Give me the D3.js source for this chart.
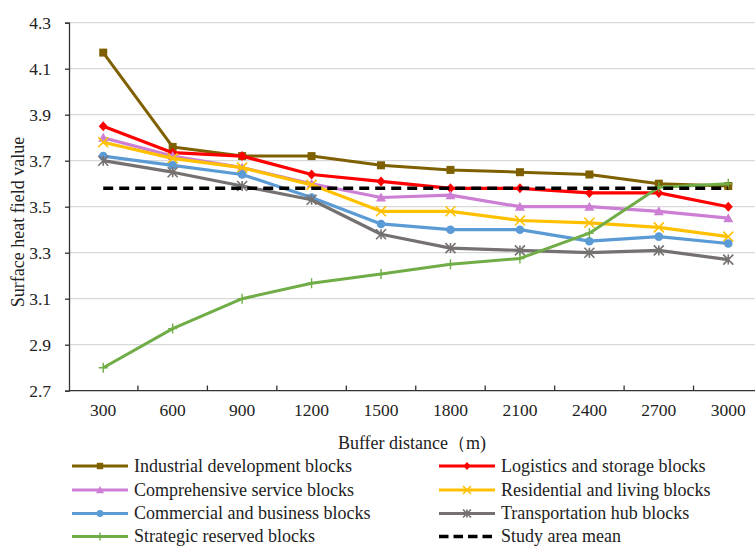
<!DOCTYPE html>
<html><head><meta charset="utf-8">
<script src="https://cdn.jsdelivr.net/npm/d3@7"></script>
<style>body{margin:0;background:#fff}svg{display:block}svg text{font-family:"Liberation Serif","Times New Roman",serif !important;fill:#222}</style>
</head><body><svg id="c" width="755" height="546" font-family="Liberation Serif, serif"></svg>
<script>
const categories = ["300","600","900","1200","1500","1800","2100","2400","2700","3000"];
const yTicks = [2.7,2.9,3.1,3.3,3.5,3.7,3.9,4.1,4.3];
const industrial   = [4.17,3.76,3.72,3.72,3.68,3.66,3.65,3.64,3.60,3.59];
const logistics    = [3.85,3.735,3.72,3.64,3.61,3.58,3.58,3.56,3.56,3.50];
const comprehensive= [3.80,3.72,3.67,3.60,3.54,3.55,3.50,3.50,3.48,3.45];
const residential  = [3.78,3.71,3.67,3.595,3.48,3.48,3.44,3.43,3.41,3.37];
const commercial   = [3.72,3.68,3.64,3.54,3.425,3.40,3.40,3.35,3.37,3.34];
const transport    = [3.70,3.65,3.59,3.53,3.38,3.32,3.31,3.30,3.31,3.27];
const strategic    = [2.80,2.97,3.10,3.167,3.207,3.25,3.275,3.385,3.585,3.60];
const studyMean    = [3.58,3.58,3.58,3.58,3.58,3.58,3.58,3.58,3.58,3.58];
const seriesNames = ["Industrial development blocks","Logistics and storage blocks","Comprehensive service blocks","Residential and living blocks","Commercial and business blocks","Transportation hub blocks","Strategic reserved blocks","Study area mean"];

const series = [
 {name:seriesNames[0], values:industrial, color:"#7f6000", marker:"square", w:3},
 {name:seriesNames[1], values:logistics, color:"#ff0000", marker:"diamond", w:3.2},
 {name:seriesNames[2], values:comprehensive, color:"#cc7fd4", marker:"triangle", w:3.2},
 {name:seriesNames[3], values:residential, color:"#ffc000", marker:"x", w:3.2},
 {name:seriesNames[4], values:commercial, color:"#5b9bd5", marker:"circle", w:3.2},
 {name:seriesNames[5], values:transport, color:"#767171", marker:"asterisk", w:3.2},
 {name:seriesNames[6], values:strategic, color:"#70ad47", marker:"plus", w:3},
 {name:seriesNames[7], values:studyMean, color:"#000000", marker:"none", w:3.5, dash:"10,6"}
];

const FONT = "Liberation Serif, Times New Roman, serif";
const svg = d3.select("#c");
const x = d3.scaleBand().domain(categories).range([68.5, 763]).padding(0);
const y = d3.scaleLinear().domain([2.7,4.3]).range([390.7, 22.7]);
const cx = c => x(c) + x.bandwidth()/2;

// gridlines
svg.append("g").selectAll("line").data(yTicks.slice(1)).join("line")
  .attr("x1", 69).attr("x2", 755).attr("y1", d=>y(d)).attr("y2", d=>y(d))
  .attr("stroke", "#d9d9d9").attr("stroke-width", 1.3);

// y axis
const ya = svg.append("g").attr("transform","translate(69,0)")
  .call(d3.axisLeft(y).tickValues(yTicks).tickFormat(d3.format(".1f")).tickSize(4).tickPadding(14));
ya.attr("font-family", FONT);
ya.select(".domain").attr("stroke","#333").attr("stroke-width",1.3);
ya.selectAll(".tick line").attr("stroke","#333").attr("stroke-width",1.3);
ya.selectAll("text").attr("font-size",17.5).attr("fill","#222");

// x axis
const xa = svg.append("g").attr("transform","translate(0,390.7)")
  .call(d3.axisBottom(x).tickSize(0).tickPadding(13));
xa.attr("font-family", FONT);
xa.select(".domain").remove();
xa.selectAll("text").attr("font-size",17.5).attr("fill","#222");
svg.append("line").attr("x1",69).attr("x2",755).attr("y1",390.7).attr("y2",390.7).attr("stroke","#333").attr("stroke-width",1.3);
svg.append("g").selectAll("line").data(categories.slice(1)).join("line")
  .attr("x1",d=>x(d)).attr("x2",d=>x(d)).attr("y1",390.7).attr("y2",385.5)
  .attr("stroke","#333").attr("stroke-width",1.3);

// titles
svg.append("text").attr("transform","translate(24,222) rotate(-90)").attr("text-anchor","middle")
  .attr("font-size",18).text("Surface heat field value");
svg.append("text").attr("x",412).attr("y",449).attr("text-anchor","middle").attr("font-size",18)
  .text("Buffer distance（m)");

function drawMarker(g, type, color, px, py, scale){
  const s = scale||1;
  if(type==="square") g.append("rect").attr("x",px-4*s).attr("y",py-4*s).attr("width",8*s).attr("height",8*s).attr("fill",color);
  else if(type==="diamond") g.append("path").attr("d",`M${px},${py-5*s}L${px+4.5*s},${py}L${px},${py+5*s}L${px-4.5*s},${py}Z`).attr("fill",color);
  else if(type==="triangle") g.append("path").attr("d",`M${px},${py-5*s}L${px+5*s},${py+4*s}L${px-5*s},${py+4*s}Z`).attr("fill",color);
  else if(type==="circle") g.append("circle").attr("cx",px).attr("cy",py).attr("r",4.3*s).attr("fill",color);
  else if(type==="x") g.append("path").attr("d",`M${px-5*s},${py-5*s}L${px+5*s},${py+5*s}M${px-5*s},${py+5*s}L${px+5*s},${py-5*s}`).attr("stroke",color).attr("stroke-width",1.6);
  else if(type==="asterisk") g.append("path").attr("d",`M${px-5*s},${py-5*s}L${px+5*s},${py+5*s}M${px-5*s},${py+5*s}L${px+5*s},${py-5*s}M${px},${py-5*s}L${px},${py+5*s}`).attr("stroke",color).attr("stroke-width",1.6);
  else if(type==="plus") g.append("path").attr("d",`M${px-4.5*s},${py}L${px+4.5*s},${py}M${px},${py-5*s}L${px},${py+5*s}`).attr("stroke",color).attr("stroke-width",1.4);
}

const line = d3.line().x((d,i)=>cx(categories[i])).y(d=>y(d));
series.forEach(s=>{
  const g = svg.append("g");
  g.append("path").attr("d", line(s.values)).attr("fill","none").attr("stroke",s.color)
    .attr("stroke-width",s.w).attr("stroke-dasharray",s.dash||null).attr("stroke-linejoin","round");
  if(s.marker!=="none") s.values.forEach((v,i)=>drawMarker(g,s.marker,s.color,cx(categories[i]),y(v)));
});

// legend
const legendX = [72, 439];
const legendRowY = [466, 490, 513.5, 536.5];
series.forEach((s,i)=>{
  const col = i%2, row = Math.floor(i/2);
  const lx = legendX[col], ly = legendRowY[row];
  const g = svg.append("g");
  g.append("line").attr("x1",lx).attr("x2",lx+56).attr("y1",ly).attr("y2",ly).attr("stroke",s.color)
    .attr("stroke-width",s.w).attr("stroke-dasharray",s.dash? "9.5,5":null);
  if(s.marker!=="none") drawMarker(g,s.marker,s.color,lx+28,ly,0.8);
  g.append("text").attr("x",lx+62).attr("y",ly+5.5).attr("font-size",18).text(s.name);
});
</script></body></html>
